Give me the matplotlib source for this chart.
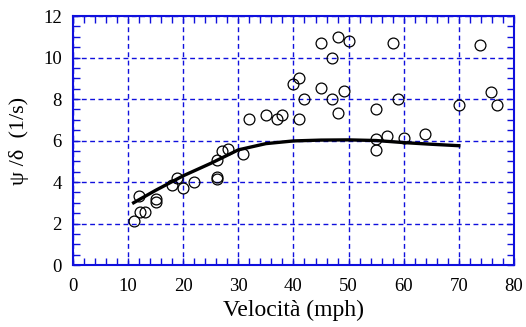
import numpy as np
import matplotlib
matplotlib.use("Agg")
import matplotlib.pyplot as plt
from matplotlib.ticker import MultipleLocator

plt.rcParams.update({"font.family": "Liberation Serif"})

# measured points
vel = [11.0, 12.0, 12.2, 13.1, 15.0, 15.0, 17.9, 18.9, 20.0, 22.0,
       26.1, 26.1, 26.1, 27.0, 28.1, 30.9, 31.9, 35.0, 37.0, 37.9,
       40.0, 41.0, 41.0, 42.0, 45.0, 45.0, 47.0, 47.0, 48.0, 48.0,
       49.1, 50.0, 54.9, 54.9, 54.9, 56.9, 58.0, 58.9, 60.0, 63.9,
       70.0, 73.9, 75.9, 77.0]
gain = [2.12, 3.33, 2.55, 2.55, 3.17, 3.06, 3.84, 4.18, 3.73, 4.02,
        4.26, 4.16, 5.04, 5.51, 5.60, 5.35, 7.02, 7.23, 7.02, 7.23,
        8.72, 9.00, 7.02, 8.02, 10.70, 8.51, 10.00, 8.02, 11.00, 7.31,
        8.40, 10.81, 7.52, 6.06, 5.53, 6.22, 10.70, 8.02, 6.14, 6.31,
        7.71, 10.62, 8.34, 7.71]

# model curve
vel_fit = [11, 15, 20, 25, 30, 35, 40, 45, 50, 55, 60, 65, 70]
gain_fit = [3.0, 3.6, 4.3, 4.9, 5.55, 5.85, 5.98, 6.02, 6.03, 6.0, 5.9, 5.82, 5.75]

blue = "#1010dd"

fig = plt.figure(figsize=(5.26, 3.27), dpi=100)
ax = fig.add_axes([0.1388, 0.1896, 0.8382, 0.7614])

ax.plot(vel_fit, gain_fit, color="black", linewidth=2.4, zorder=3)
ax.plot(vel, gain, linestyle="none", marker="o", markersize=7.8,
        markerfacecolor="none", markeredgecolor="black",
        markeredgewidth=0.9, zorder=4)

ax.set_xlim(0, 80)
ax.set_ylim(0, 12)
ax.xaxis.set_major_locator(MultipleLocator(10))
ax.xaxis.set_minor_locator(MultipleLocator(2))
ax.yaxis.set_major_locator(MultipleLocator(2))
ax.yaxis.set_minor_locator(MultipleLocator(0.5))

ax.grid(True, which="major", color=blue, linestyle=(0, (3.5, 2.5)), linewidth=1.0)
for s in ax.spines.values():
    s.set_color(blue)
    s.set_linewidth(1.5)
ax.tick_params(which="both", direction="in", top=True, right=True,
               color=blue, labelsize=13.5, labelcolor="black")
ax.tick_params(which="major", length=5, width=1.0)
ax.tick_params(axis="x", which="major", pad=9)
ax.tick_params(axis="y", which="major", pad=8)
ax.tick_params(which="minor", length=5, width=1.0)

ax.set_xlabel("Velocità (mph)", fontsize=17, labelpad=4)
ax.set_ylabel("ψ /δ  (1/s)", fontsize=16, labelpad=10)

fig.savefig("out.png", dpi=100)
